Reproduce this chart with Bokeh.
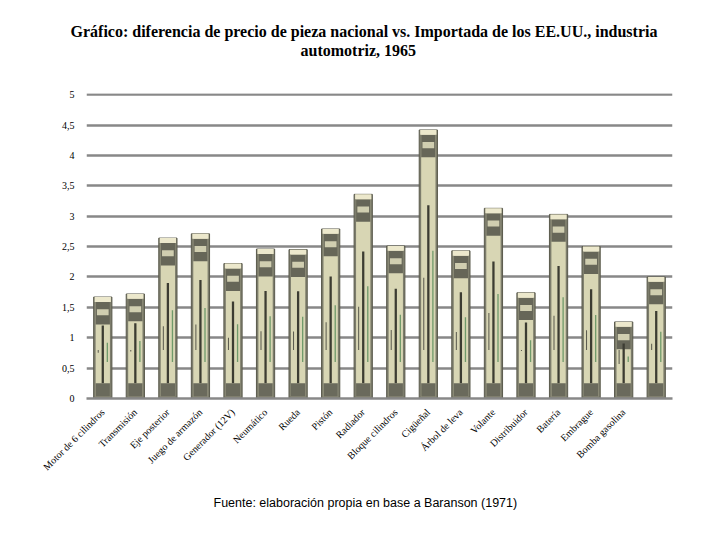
from bokeh.plotting import figure
from bokeh.models import FixedTicker, Range1d, Title
from bokeh.embed import file_html
from bokeh.resources import INLINE
import math

piezas = ["Motor de 6 cilindros", "Transmisión", "Eje posterior", "Juego de armazón",
          "Generador (12V)", "Neumático", "Rueda", "Pistón", "Radiador",
          "Bloque cilindros", "Cigüeñal", "Árbol de leva", "Volante", "Distribuidor",
          "Batería", "Embrague", "Bomba gasolina", ""]
diferencia = [1.67, 1.72, 2.64, 2.71, 2.22, 2.46, 2.45, 2.79, 3.36,
              2.51, 4.42, 2.43, 3.13, 1.74, 3.03, 2.50, 1.26, 2.00]
y_ticks = [0, 0.5, 1, 1.5, 2, 2.5, 3, 3.5, 4, 4.5, 5]
y_tick_labels = ["0", "0,5", "1", "1,5", "2", "2,5", "3", "3,5", "4", "4,5", "5"]

xs = list(range(len(diferencia)))

p = figure(width=704, height=524, output_backend="svg", toolbar_location=None,
           x_range=Range1d(-0.5, len(diferencia) - 0.5), y_range=Range1d(0, 5.02),
           min_border_left=86, min_border_right=32, min_border_top=93, min_border_bottom=126)
p.outline_line_color = None
p.background_fill_color = "white"

# bars styled like banknotes
p.vbar(x=xs, top=diferencia, width=0.56, bottom=0, fill_color="#7d7d6c", line_color="#5a5a4c", line_width=1)
p.vbar(x=xs, top=[v - 0.03 for v in diferencia], width=0.44, bottom=0.03, fill_color="#d8d6b4", line_color=None)
p.vbar(x=xs, top=[v - 0.08 for v in diferencia], bottom=[v - 0.45 for v in diferencia], width=0.44,
       fill_color="#666658", line_color=None)
p.vbar(x=xs, top=[v - 0.2 for v in diferencia], bottom=[v - 0.3 for v in diferencia], width=0.36,
       fill_color="#d0ceb0", line_color=None)
p.vbar(x=xs, top=diferencia, bottom=[v - 0.08 for v in diferencia], width=0.5,
       fill_color="#ece8cc", line_color=None)
p.vbar(x=xs, top=[v * 0.72 for v in diferencia], bottom=0.25, width=0.07,
       fill_color="#3c3c32", line_color=None)
p.vbar(x=[x + 0.14 for x in xs], top=[v * 0.55 for v in diferencia], bottom=0.6, width=0.04,
       fill_color="#6f9a6a", line_color=None)
p.vbar(x=[x - 0.14 for x in xs], top=[v * 0.45 for v in diferencia], bottom=0.8, width=0.03,
       fill_color="#55554a", line_color=None)
p.vbar(x=xs, top=0.25, bottom=0.03, width=0.44, fill_color="#6a6a5c", line_color=None)

# grid
p.xgrid.grid_line_color = None
p.ygrid.grid_line_color = "#888888"
p.ygrid.grid_line_width = 2.5

p.yaxis.ticker = FixedTicker(ticks=y_ticks)
p.yaxis.major_label_overrides = {t: l for t, l in zip(y_ticks, y_tick_labels)}
p.yaxis.axis_line_color = None
p.yaxis.major_tick_line_color = None
p.yaxis.minor_tick_line_color = None
p.yaxis.major_label_text_font = "Liberation Serif"
p.yaxis.major_label_text_font_size = "10px"
p.yaxis.major_label_text_color = "black"
p.yaxis.major_label_standoff = 6

p.xaxis.ticker = FixedTicker(ticks=xs[:-1])
p.xaxis.major_label_overrides = {i: n for i, n in enumerate(piezas) if n}
p.xaxis.major_label_orientation = math.pi / 4
p.xaxis.axis_line_color = "#888888"
p.xaxis.axis_line_width = 2.5
p.xaxis.major_tick_line_color = None
p.xaxis.minor_tick_line_color = None
p.xaxis.major_label_text_font = "Liberation Serif"
p.xaxis.major_label_text_font_size = "10px"
p.xaxis.major_label_text_color = "black"
p.xaxis.major_label_standoff = 6

spacer = Title(text=" ", align="left", standoff=22, text_font="Liberation Serif",
               text_font_size="10px", text_color="white")
t2 = Title(text="automotriz, 1965", align="left", offset=214, standoff=0,
           text_font="Liberation Serif", text_font_size="16px", text_font_style="bold",
           text_color="black")
t1 = Title(text="Gráfico: diferencia de precio de pieza nacional vs. Importada de los EE.UU., industria",
           align="left", offset=-16, standoff=0, text_font="Liberation Serif", text_font_size="16px",
           text_font_style="bold", text_color="black")
p.add_layout(spacer, "above")
p.add_layout(t2, "above")
p.add_layout(t1, "above")

fuente = Title(text="Fuente: elaboración propia en base a Baranson (1971)", align="left", offset=127,
               text_font="Liberation Sans", text_font_size="12.5px", text_font_style="normal",
               text_color="black", standoff=28)
p.add_layout(fuente, "below")

open("out.html", "w").write(file_html(p, INLINE))
